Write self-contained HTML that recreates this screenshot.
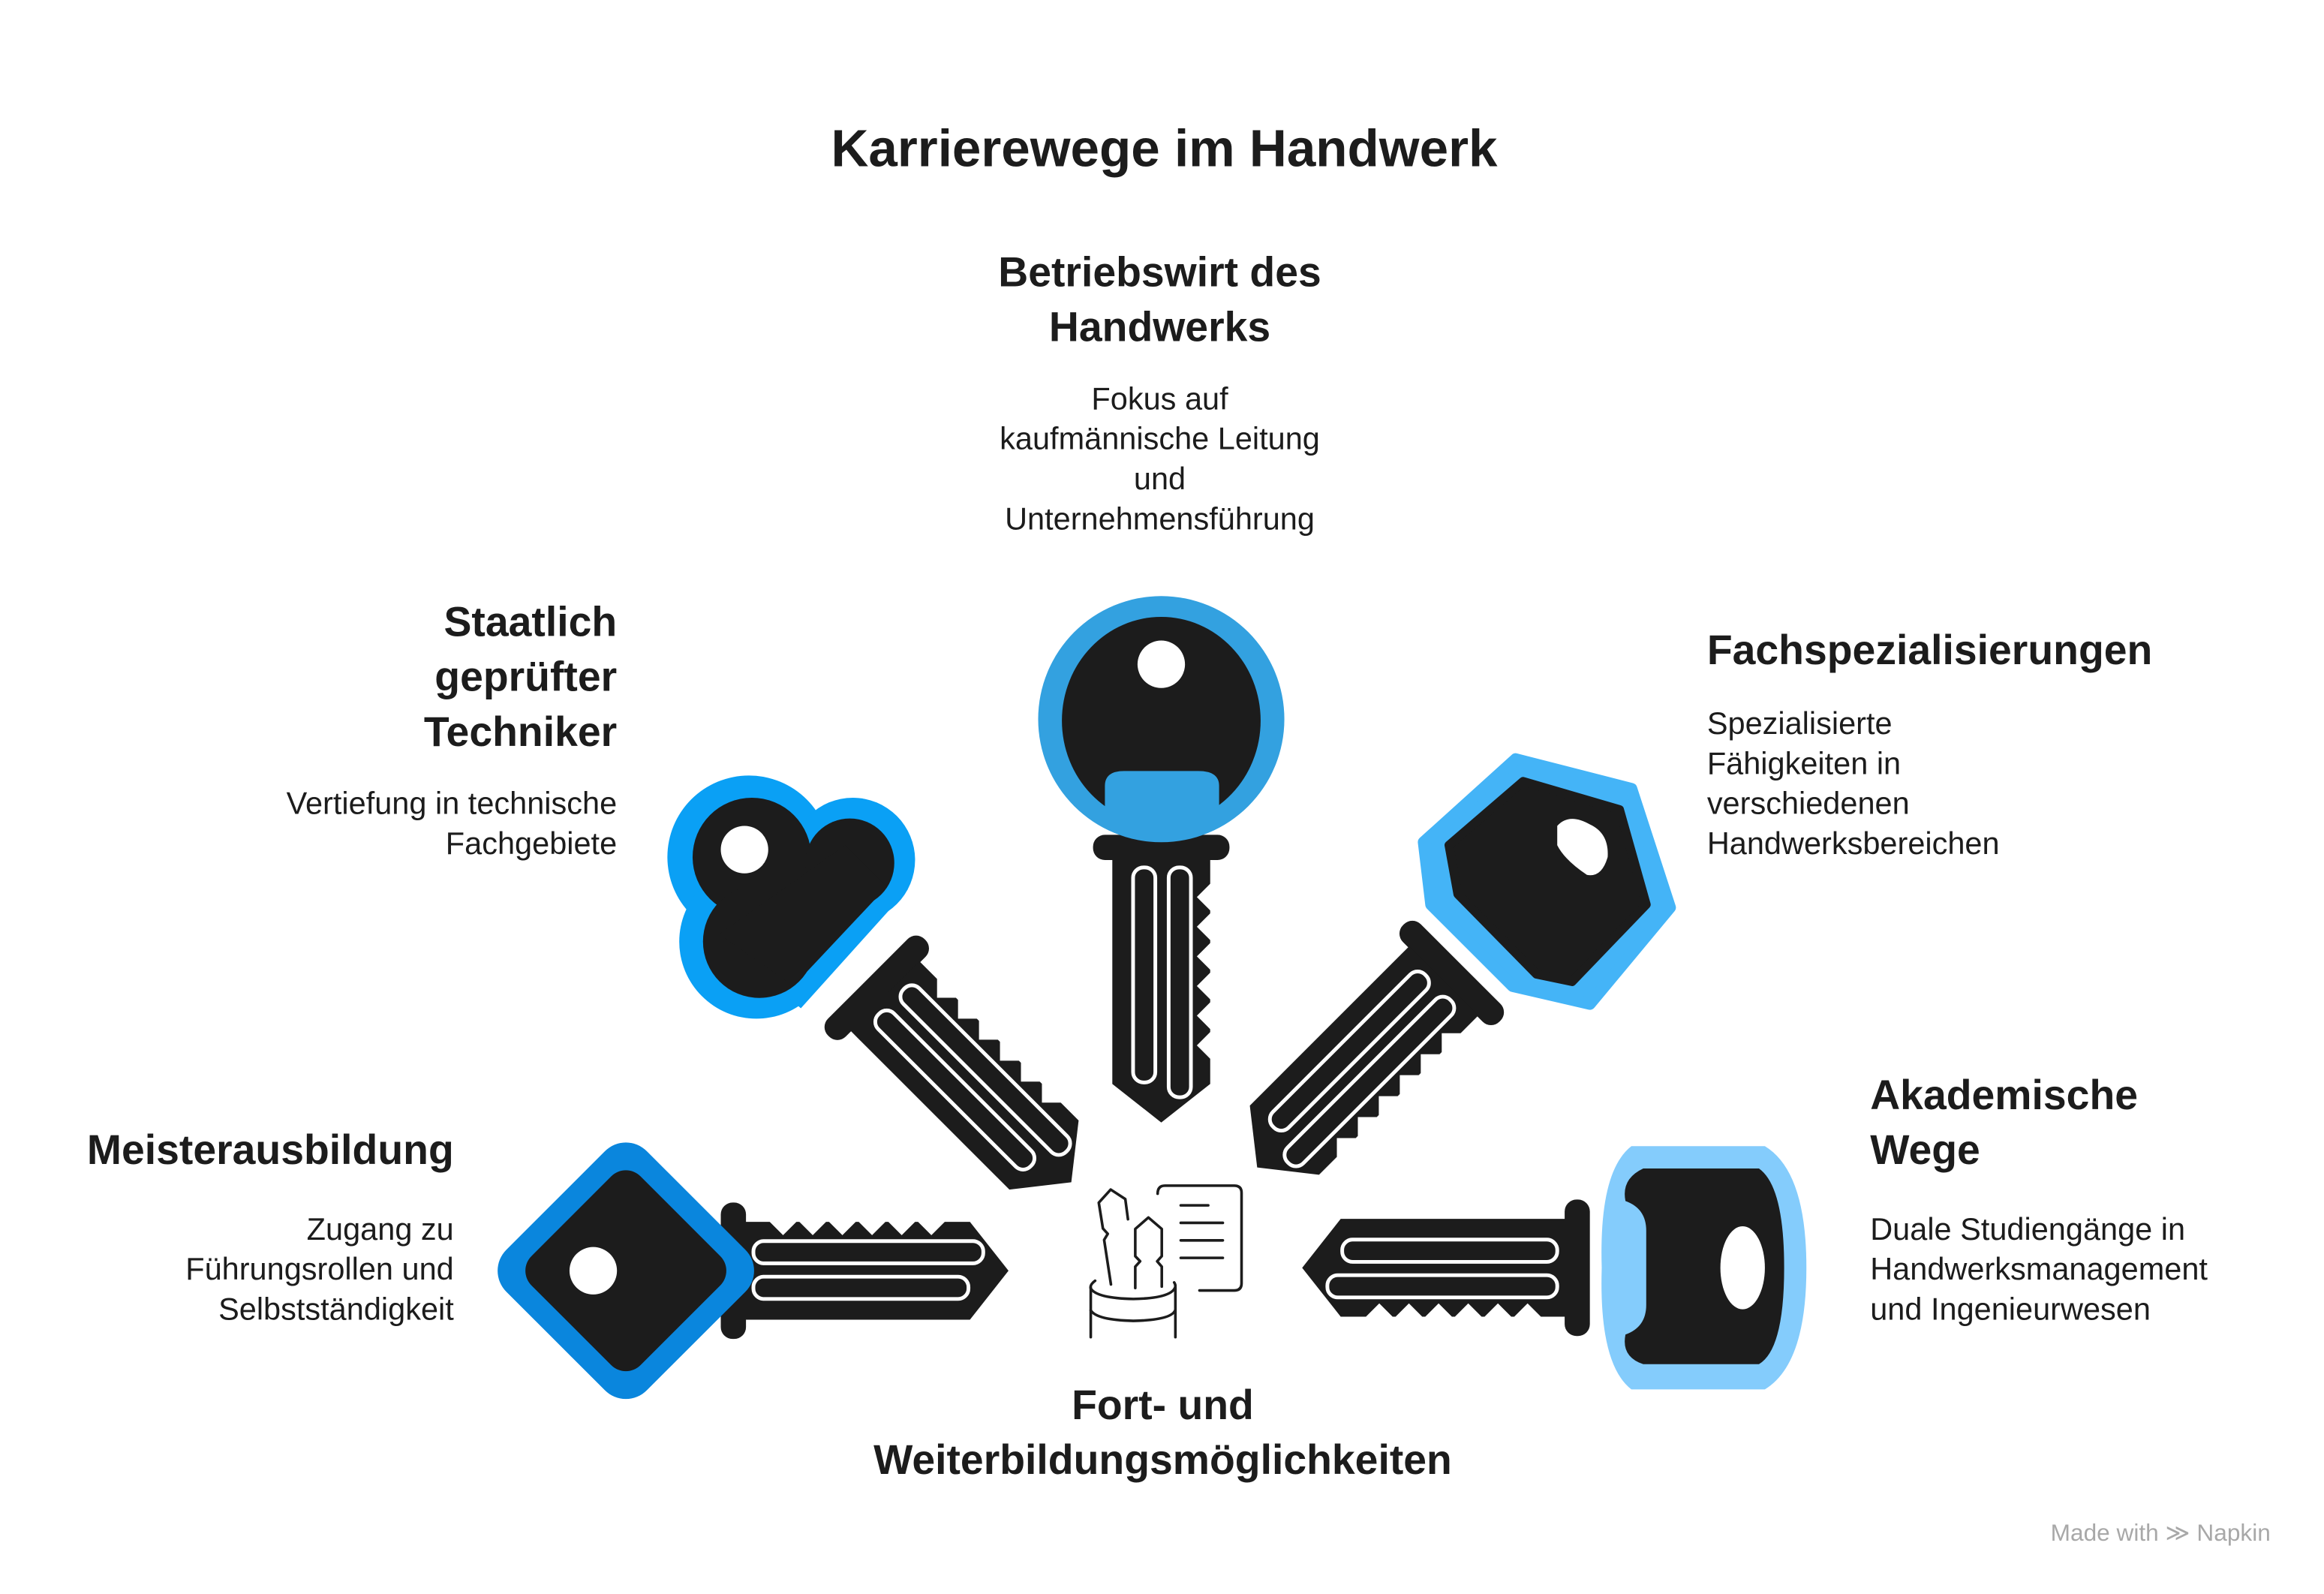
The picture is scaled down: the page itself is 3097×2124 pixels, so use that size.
<!DOCTYPE html>
<html><head><meta charset="utf-8"><style>
html,body{margin:0;padding:0;background:#fff;}
svg{display:block;}
text{font-family:"Liberation Sans",Arial,sans-serif;fill:#1c1c1c;}
.t{font-weight:bold;font-size:35px;}
.h{font-weight:bold;font-size:28px;}
.b{font-size:21px;}
</style></head><body>
<svg width="3097" height="2124" viewBox="0 0 1567 1075" preserveAspectRatio="none" xmlns="http://www.w3.org/2000/svg">
<rect width="1567" height="1075" fill="#fff"/>
<defs>
<g id="blade">
  <rect x="78" y="-46" width="17" height="92" rx="8" fill="#1c1c1c"/>
  <path d="M94,-33 L246,-33 L272,0 L246,33 L94,33 Z" fill="#1c1c1c"/>
  <path d="M110,-34 L120,-24 L130,-34 L140,-24 L150,-34 L160,-24 L170,-34 L180,-24 L190,-34 L200,-24 L210,-34 L220,-24 L230,-34 Z" fill="#fff"/>
  <rect x="100" y="-20" width="155" height="15" rx="7" fill="none" stroke="#fff" stroke-width="2.5"/>
  <rect x="100" y="4" width="145" height="15" rx="7" fill="none" stroke="#fff" stroke-width="2.5"/>
</g>
</defs>

<text class="t" x="785" y="112" text-anchor="middle">Karrierewege im Handwerk</text>

<use href="#blade" transform="translate(783,485) rotate(90)"/>
<ellipse cx="783" cy="485" rx="83" ry="83" fill="#33a1e0"/>
<ellipse cx="783" cy="486" rx="67" ry="70" fill="#1c1c1c"/>
<path d="M745,530 Q745,520 758,520 L808,520 Q822,520 822,530 L822,558 L745,558 Z" fill="#33a1e0"/>
<circle cx="783" cy="448" r="16" fill="#fff"/>

<use href="#blade" transform="translate(530,605) rotate(45)"/>
<g fill="#0aa0f5">
<circle cx="505" cy="578" r="55"/><circle cx="575" cy="580" r="42"/><circle cx="510" cy="635" r="52"/>
<path d="M540,680 L612,600 L580,560 L470,620 Z"/>
</g>
<g fill="#1c1c1c">
<circle cx="507" cy="578" r="40"/><circle cx="573" cy="582" r="30"/><circle cx="512" cy="635" r="38"/>
<path d="M535,665 L598,598 L570,570 L485,630 Z"/>
</g>
<circle cx="502" cy="573" r="16" fill="#fff"/>

<use href="#blade" transform="translate(1040,595) rotate(135)"/>
<path d="M1022,512 L1100,532 L1126,612 L1072,677 L1020,665 L965,610 L960,568 Z" fill="#44b4f7" stroke="#44b4f7" stroke-width="8" stroke-linejoin="round"/>
<path d="M1027,527 L1092,546 L1110,610 L1060,662 L1036,657 L983,603 L977,570 Z" fill="#1c1c1c" stroke="#1c1c1c" stroke-width="6" stroke-linejoin="round"/>
<path d="M1050,557 Q1058,548 1072,556 Q1085,562 1084,578 Q1080,592 1070,590 Q1055,580 1050,570 Z" fill="#fff"/>

<use href="#blade" transform="translate(408,857) rotate(0)"/>
<rect x="355" y="790" width="134" height="134" rx="20" transform="rotate(45 422 857)" fill="#0a86dd"/>
<rect x="370" y="805" width="104" height="104" rx="14" transform="rotate(45 422 857)" fill="#1c1c1c"/>
<circle cx="400" cy="857" r="16" fill="#fff"/>

<use href="#blade" transform="translate(1150,855) rotate(180)"/>
<path d="M1100,773 L1190,773 Q1218,790 1218,855 Q1218,920 1190,937 L1100,937 Q1078,920 1080,855 Q1078,790 1100,773 Z" fill="#84ccfc"/>
<path d="M1108,788 L1186,788 Q1203,800 1203,855 Q1203,910 1186,920 L1108,920 Q1093,915 1096,900 Q1110,895 1110,880 L1110,830 Q1110,815 1096,810 Q1093,795 1108,788 Z" fill="#1c1c1c"/>
<ellipse cx="1175" cy="855" rx="15" ry="28" fill="#fff"/>

<g transform="translate(733,796) scale(0.164)" fill="none" stroke="#1c1c1c" stroke-width="11" stroke-linecap="round" stroke-linejoin="round">
<path d="M98,428 L70,245 L85,220 L65,198 L48,92 L97,38 L157,77 L168,160"/>
<path d="M198,443 L198,355 L218,333 L198,312 L198,200 L252,153 L307,200 L307,312 L288,333 L307,355 L307,437"/>
<path d="M290,55 Q290,22 320,22 L605,22 Q635,22 635,52 L635,423 Q635,453 605,453 L462,453"/>
<path d="M385,103 L498,103 M385,175 L558,175 M385,247 L558,247 M385,319 L558,319"/>
<path d="M33,413 Q10,430 15,445 Q40,485 190,488 Q345,485 362,440 Q365,430 358,420"/>
<path d="M15,535 Q40,575 190,578 Q345,575 362,535"/>
<path d="M15,440 L15,645 M363,440 L363,645"/>
</g>

<text class="h" x="782" y="193" text-anchor="middle">Betriebswirt des</text>
<text class="h" x="782" y="230" text-anchor="middle">Handwerks</text>
<text class="b" x="782" y="276" text-anchor="middle">Fokus auf</text>
<text class="b" x="782" y="303" text-anchor="middle">kaufmännische Leitung</text>
<text class="b" x="782" y="330" text-anchor="middle">und</text>
<text class="b" x="782" y="357" text-anchor="middle">Unternehmensführung</text>

<text class="h" x="416" y="429" text-anchor="end">Staatlich</text>
<text class="h" x="416" y="466" text-anchor="end">geprüfter</text>
<text class="h" x="416" y="503" text-anchor="end">Techniker</text>
<text class="b" x="416" y="549" text-anchor="end">Vertiefung in technische</text>
<text class="b" x="416" y="576" text-anchor="end">Fachgebiete</text>

<text class="h" x="1151" y="448">Fachspezialisierungen</text>
<text class="b" x="1151" y="495">Spezialisierte</text>
<text class="b" x="1151" y="522">Fähigkeiten in</text>
<text class="b" x="1151" y="549">verschiedenen</text>
<text class="b" x="1151" y="576">Handwerksbereichen</text>

<text class="h" x="306" y="785" text-anchor="end">Meisterausbildung</text>
<text class="b" x="306" y="836" text-anchor="end">Zugang zu</text>
<text class="b" x="306" y="863" text-anchor="end">Führungsrollen und</text>
<text class="b" x="306" y="890" text-anchor="end">Selbstständigkeit</text>

<text class="h" x="1261" y="748">Akademische</text>
<text class="h" x="1261" y="785">Wege</text>
<text class="b" x="1261" y="836">Duale Studiengänge in</text>
<text class="b" x="1261" y="863">Handwerksmanagement</text>
<text class="b" x="1261" y="890">und Ingenieurwesen</text>

<text class="h" x="784" y="957" text-anchor="middle">Fort- und</text>
<text class="h" x="784" y="994" text-anchor="middle">Weiterbildungsmöglichkeiten</text>

<text x="1531" y="1039" text-anchor="end" style="font-size:16px;fill:#a8a8a8">Made with ≫ Napkin</text>
</svg>
</body></html>
